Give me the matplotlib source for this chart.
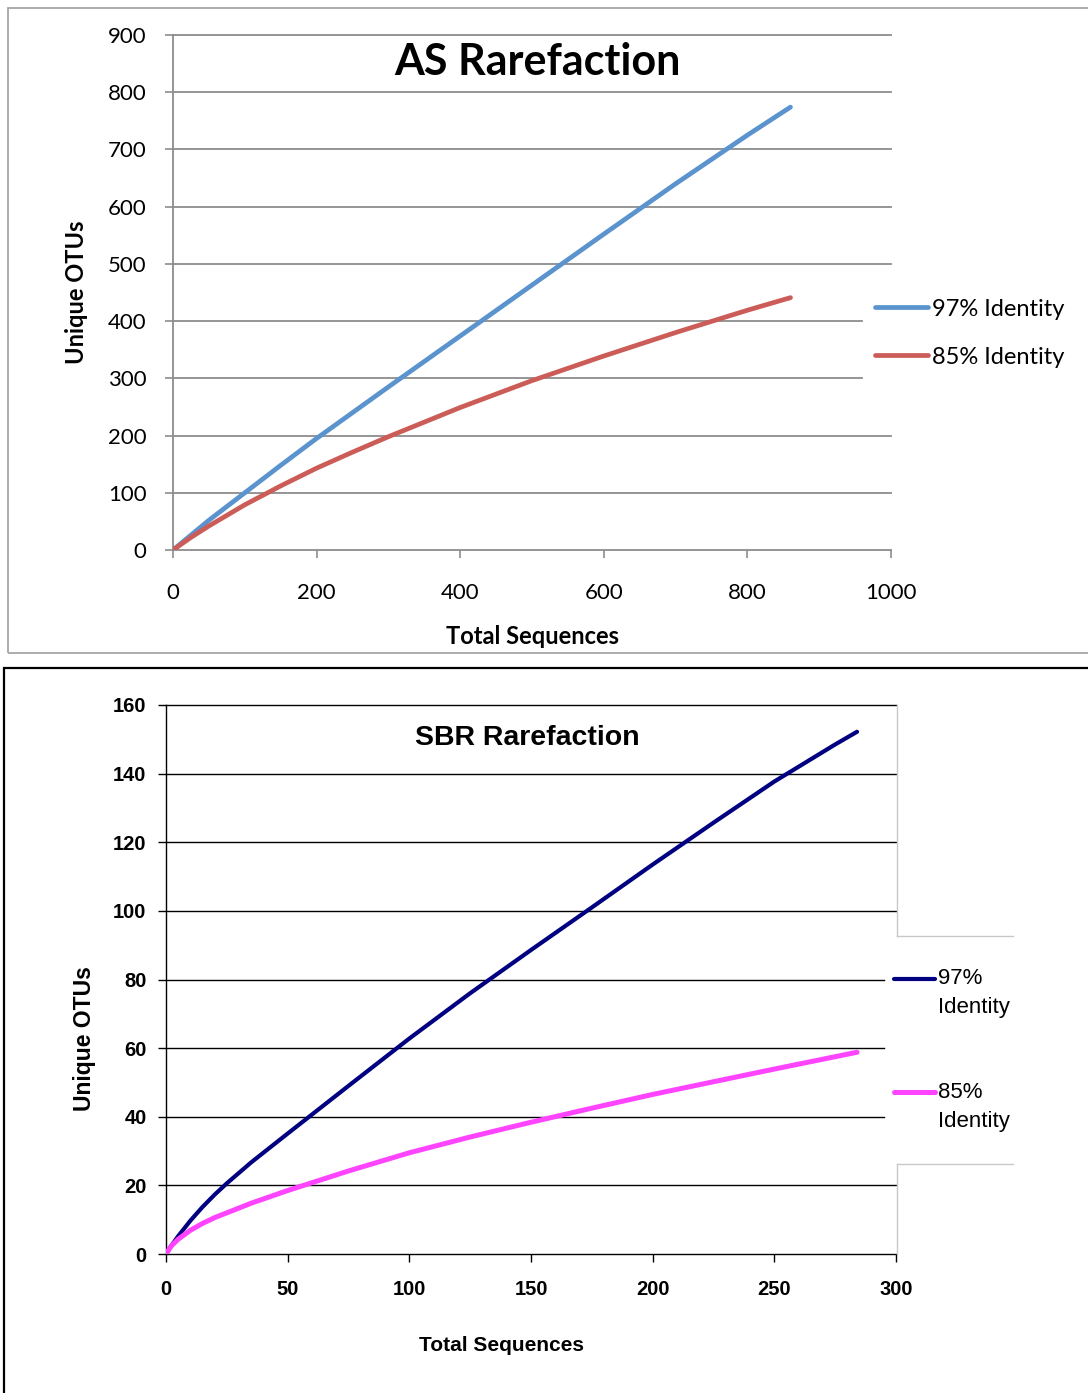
import matplotlib.pyplot as plt
from matplotlib.lines import Line2D
from matplotlib.patches import Rectangle

# datos
as_seqs = [0, 25, 50, 100, 150, 200, 250, 300, 400, 500, 600, 700, 800, 860]
as_97 = [0, 26, 52, 100, 148, 195, 240, 285, 374, 463, 552, 640, 725, 774]
as_85 = [0, 22, 42, 79, 112, 143, 171, 198, 249, 296, 339, 380, 419, 441]
as_xticks = [0, 200, 400, 600, 800, 1000]
as_yticks = [0, 100, 200, 300, 400, 500, 600, 700, 800, 900]

sbr_seqs = [0, 2, 5, 10, 15, 20, 25, 35, 50, 75, 100, 125, 150, 175, 200, 225, 250, 275, 284]
sbr_97 = [0, 2.2, 5.2, 9.7, 13.7, 17.3, 20.6, 26.7, 35.1, 49, 62.8, 76, 88.6, 101, 113.5, 125.7, 137.7, 148.5, 152.2]
sbr_85 = [0, 2.2, 4.3, 6.9, 8.9, 10.6, 12, 14.8, 18.5, 24.2, 29.5, 34.1, 38.4, 42.5, 46.5, 50.2, 53.9, 57.5, 58.8]
sbr_xticks = [0, 50, 100, 150, 200, 250, 300]
sbr_yticks = [0, 20, 40, 60, 80, 100, 120, 140, 160]

W, H = 1088, 1393
fig = plt.figure(figsize=(W / 100, H / 100), dpi=100)


def fx(x):
    return x / W


def fy(y):
    return 1 - y / H


def seg(x0, y0, x1, y1, **kw):
    fig.add_artist(Line2D([fx(x0), fx(x1)], [fy(y0), fy(y1)], transform=fig.transFigure, **kw))


# marcos de los dos graficos
fig.add_artist(Rectangle((fx(8), fy(653)), fx(1100) - fx(8), fy(8) - fy(653), fill=False,
                         ec='#a6a6a6', lw=1.3, transform=fig.transFigure))
fig.add_artist(Rectangle((fx(4), fy(1400)), fx(1100) - fx(4), fy(668) - fy(1400), fill=False,
                         ec='black', lw=1.6, transform=fig.transFigure))

# ---------------- AS Rarefaction ----------------
gris = '#8c8c8c'
f1 = 'Lato'
ax1 = fig.add_axes([fx(173), fy(550), (891 - 173) / W, (550 - 35) / H])
ax1.plot(as_seqs, as_97, color='#5a93ce', lw=3.4, solid_capstyle='round', label='97% Identity', zorder=3)
ax1.plot(as_seqs, as_85, color='#cb5c57', lw=3.4, solid_capstyle='round', label='85% Identity', zorder=3)
ax1.set_xlim(0, 1000)
ax1.set_ylim(0, 900)
ax1.set_xticks(as_xticks)
ax1.set_yticks(as_yticks)
for s in ['top', 'right']:
    ax1.spines[s].set_visible(False)
for s in ['left', 'bottom']:
    ax1.spines[s].set_color(gris)
    ax1.spines[s].set_linewidth(1.3)
ax1.tick_params(direction='out', length=6, width=1.2, color=gris, labelsize=16)
ax1.tick_params(axis='y', pad=13)
ax1.tick_params(axis='x', pad=18)
for lab in ax1.get_xticklabels() + ax1.get_yticklabels():
    lab.set_family(f1)
for v in as_yticks[1:]:
    xmax = 0.96 if v in (300, 400) else 1
    ax1.axhline(v, 0, xmax, color=gris, lw=1.3, zorder=1, clip_on=False)
ax1.text(0.508, 0.948, 'AS Rarefaction', transform=ax1.transAxes, ha='center', va='center',
         fontsize=31, fontweight='bold', family=f1)
ax1.set_xlabel('Total Sequences', fontsize=17, fontweight='bold', family=f1, va='center')
ax1.xaxis.set_label_coords(0.5, -0.167)
ax1.set_ylabel('Unique OTUs', fontsize=17, fontweight='bold', family=f1, va='center')
ax1.yaxis.set_label_coords(-0.135, 0.501)

# leyenda
for ln, y in zip(ax1.get_lines(), [307, 355]):
    seg(875, y, 928, y, color=ln.get_color(), lw=3.4, solid_capstyle='round')
    fig.text(fx(932), fy(y + 2), ln.get_label(), va='center', ha='left', fontsize=17, family=f1)

# ---------------- SBR Rarefaction ----------------
f2 = 'Liberation Sans'
ax2 = fig.add_axes([fx(166), fy(1254), (896 - 166) / W, (1254 - 705) / H])
ax2.plot(sbr_seqs, sbr_97, color='#000080', lw=3.0, solid_capstyle='round', label='97% Identity', zorder=3)
ax2.plot(sbr_seqs, sbr_85, color='#ff44ff', lw=3.6, solid_capstyle='round', label='85% Identity', zorder=3)
ax2.set_xlim(0, 300)
ax2.set_ylim(0, 160)
ax2.set_xticks(sbr_xticks)
ax2.set_yticks(sbr_yticks)
for s in ['top', 'right']:
    ax2.spines[s].set_visible(False)
for s in ['left', 'bottom']:
    ax2.spines[s].set_color('black')
    ax2.spines[s].set_linewidth(1.0)
ax2.tick_params(direction='out', length=6, width=1.0, color='black', labelsize=14.5)
ax2.tick_params(axis='y', pad=8)
ax2.tick_params(axis='x', pad=13)
for lab in ax2.get_xticklabels() + ax2.get_yticklabels():
    lab.set_family(f2)
    lab.set_fontweight('bold')
for v in sbr_yticks[1:]:
    xmax = 0.9836 if v in (40, 60, 80) else 1
    ax2.axhline(v, 0, xmax, color='black', lw=1.0, zorder=1, clip_on=False)
ax2.text(0.4945, 0.94, 'SBR Rarefaction', transform=ax2.transAxes, ha='center', va='center',
         fontsize=20.5, fontweight='bold', family=f2)
ax2.set_xlabel('Total Sequences', fontsize=15, fontweight='bold', family=f2, va='center')
ax2.xaxis.set_label_coords(0.46, -0.166)
ax2.set_ylabel('Unique OTUs', fontsize=16.5, fontweight='bold', family=f2, va='center')
ax2.yaxis.set_label_coords(-0.112, 0.393)

# borde gris del area de trazado alrededor de la leyenda
borde = dict(color='#c8c8c8', lw=1.0)
seg(897, 705, 897, 936, **borde)
seg(897, 936, 1013, 936, **borde)
seg(897, 1164, 1013, 1164, **borde)
seg(897, 1164, 897, 1254, **borde)

# leyenda
for ln, y in zip(ax2.get_lines(), [979, 1092]):
    seg(894, y, 935, y, color=ln.get_color(), lw=ln.get_linewidth(), solid_capstyle='round')
    pct, palabra = ln.get_label().split(' ')
    fig.text(fx(938), fy(y), pct, va='center', ha='left', fontsize=16, family=f2)
    fig.text(fx(938), fy(y + 29), palabra, va='center', ha='left', fontsize=16, family=f2)

fig.savefig('out.png', dpi=100)
